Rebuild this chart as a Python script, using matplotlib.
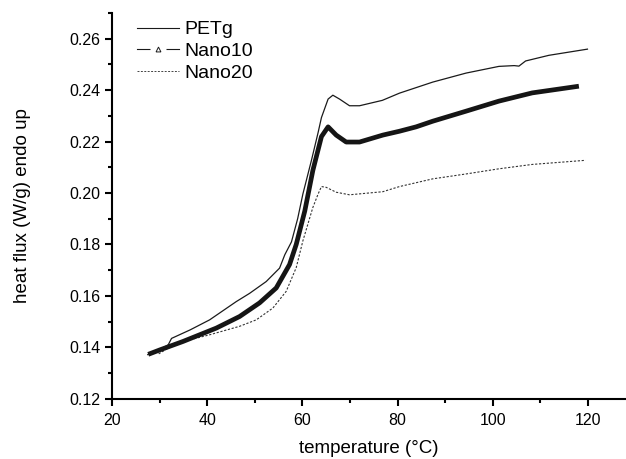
import numpy as np
import matplotlib
matplotlib.use("Agg")
import matplotlib.pyplot as plt
from matplotlib.lines import Line2D

plt.rcParams['font.family'] = ['Liberation Sans', 'DejaVu Sans']

# values
petg_t = [27.5, 30.0, 31.8, 32.5, 36.4, 40.5, 46.1, 48.9, 52.4, 55.2, 56.3, 57.7, 59.0,
          60.1, 61.9, 63.3, 64.0, 65.4, 66.4, 67.8, 69.9, 72.0, 76.8, 80.4, 87.4,
          94.4, 101.3, 104.5, 105.5, 106.9, 111.8, 119.9]
petg_v = [0.1372, 0.1390, 0.1410, 0.1435, 0.1468, 0.1507, 0.1578, 0.1610, 0.1656, 0.1708,
          0.1760, 0.1810, 0.1900, 0.1996, 0.2127, 0.2235, 0.2293, 0.2365, 0.2380, 0.2365,
          0.2339, 0.2339, 0.2360, 0.2388, 0.2431, 0.2466, 0.2492, 0.2495, 0.2493, 0.2513,
          0.2535, 0.2559]

nano10_t = [27.6, 30.0, 34.9, 41.9, 46.8, 51.0, 54.5, 57.3, 58.7, 60.5, 62.2, 64.0, 65.4,
            67.1, 69.2, 72.0, 76.9, 80.4, 83.9, 87.4, 94.4, 101.3, 108.3, 118.1]
nano10_v = [0.1373, 0.1390, 0.1423, 0.1475, 0.1520, 0.1573, 0.1631, 0.1722, 0.1800, 0.1930,
            0.2088, 0.2219, 0.2257, 0.2225, 0.2198, 0.2198, 0.2225, 0.2240, 0.2257, 0.2279,
            0.2318, 0.2357, 0.2389, 0.2415]

nano20_t = [29.8, 33.5, 40.5, 46.8, 50.3, 53.8, 56.6, 58.7, 60.1, 62.2, 63.3, 64.0, 65.0,
            67.1, 69.9, 76.9, 80.4, 87.4, 94.4, 101.3, 108.3, 119.5]
nano20_v = [0.1375, 0.1416, 0.1449, 0.1482, 0.1507, 0.1553, 0.1618, 0.1710, 0.1814, 0.1944,
            0.1996, 0.2025, 0.2022, 0.2003, 0.1993, 0.2005, 0.2025, 0.2055, 0.2074, 0.2094,
            0.2111, 0.2127]

labels = ['PETg', 'Nano10', 'Nano20']

fig = plt.figure(figsize=(6.26, 4.59), dpi=100)
ax = fig.add_axes([0.179, 0.131, 0.821, 0.841])

ax.plot(nano20_t, nano20_v, color='#333333', lw=0.8, ls=(0, (2, 1.5)))
ax.plot(nano10_t, nano10_v, color='#151515', lw=3.4, solid_capstyle='butt',
        solid_joinstyle='round')
ax.plot(petg_t, petg_v, color='#1a1a1a', lw=0.9)

ax.set_xlim(20, 128)
ax.set_ylim(0.12, 0.27)
ax.set_xticks(np.arange(20, 121, 20))
ax.set_xticks(np.arange(30, 121, 20), minor=True)
ax.set_yticks(np.arange(0.12, 0.261, 0.02))
ax.set_yticks(np.arange(0.13, 0.27, 0.02), minor=True)
ax.yaxis.set_major_formatter(matplotlib.ticker.FormatStrFormatter('%.2f'))

for s in ['top', 'right']:
    ax.spines[s].set_visible(False)
for s in ['left', 'bottom']:
    ax.spines[s].set_linewidth(1.5)
ax.tick_params(which='major', direction='out', length=5, width=1.5, labelsize=11.5)
ax.tick_params(which='minor', direction='out', length=3, width=1.5)
ax.tick_params(axis='x', which='major', pad=5)
ax.tick_params(axis='y', which='major', pad=3.5)

ax.set_xlabel('temperature (°C)', fontsize=13.5, labelpad=9)
ax.set_ylabel('heat flux (W/g) endo up', fontsize=13.5, labelpad=27)

h_petg = Line2D([], [], color='#1a1a1a', lw=0.8)
h_n10 = (Line2D([], [], color='#1a1a1a', lw=0.8),
         Line2D([], [], ls='none', marker='s', ms=11, mfc='white', mec='none'),
         Line2D([], [], ls='none', marker='^', ms=3.5, mfc='white', mec='#1a1a1a', mew=0.7))
h_n20 = Line2D([], [], color='#444444', lw=0.7, ls=(0, (2, 1.5)))
ax.legend([h_petg, h_n10, h_n20], labels, loc='upper left', bbox_to_anchor=(0.015, 1.025),
          frameon=False, fontsize=14, handlelength=2.15, handletextpad=0.25,
          labelspacing=0.22, numpoints=1)

fig.savefig('out.png', dpi=100)
